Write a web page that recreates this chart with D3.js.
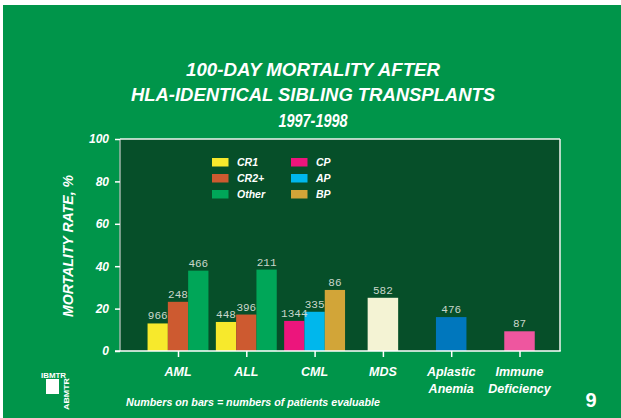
<!doctype html>
<html>
<head>
<script src="https://d3js.org/d3.v7.min.js"></script>
<style>
  body { margin: 0; background: #fff; }
  text { font-family: "Liberation Sans", Arial, sans-serif; }
</style>
</head>
<body>
<svg width="621" height="418"></svg>
<script>
// data
var categories = ["AML", "ALL", "CML", "MDS", "Aplastic Anemia", "Immune Deficiency"];
var phases = [["CR1", "CR2+", "Other"], ["CR1", "CR2+", "Other"], ["CP", "AP", "BP"], ["MDS"], ["Aplastic"], ["Immune"]];
var mortality = [[13.0, 23.2, 37.9], [13.7, 17.2, 38.4], [14.2, 18.5, 28.8], [25.1], [16.0], [9.3]];
var patients = [[966, 248, 466], [448, 396, 211], [1344, 335, 86], [582], [476], [87]];
var legendKeys = ["CR1", "CR2+", "Other", "CP", "AP", "BP"];
var yTicks = [0, 20, 40, 60, 80, 100];
var titleLines = ["100-DAY MORTALITY AFTER", "HLA-IDENTICAL SIBLING TRANSPLANTS", "1997-1998"];

var colors = {
  "CR1": "#f7e92c", "CR2+": "#cd5a30", "Other": "#00a658",
  "CP": "#ec157c", "AP": "#00b7ec", "BP": "#d2a538",
  "MDS": "#f4f3d4", "Aplastic": "#0077bd", "Immune": "#ee569f"
};

var svg = d3.select("svg");
var plotL = 120, plotR = 560, plotT = 139, plotB = 351;

function fit(sel, w) {
  return sel.attr("textLength", w).attr("lengthAdjust", "spacingAndGlyphs");
}

// slide background
svg.append("rect").attr("x", 3).attr("y", 5).attr("width", 618).attr("height", 413).attr("fill", "#00954a");

// title
var tw = [254, 364, 69];
titleLines.forEach(function (t, i) {
  fit(svg.append("text")
    .attr("x", 313).attr("y", 76 + i * 25.3)
    .attr("text-anchor", "middle")
    .style("font-size", "19px").style("font-weight", "bold").style("font-style", "italic")
    .attr("fill", "#fff")
    .text(t), tw[i]);
});

var y = d3.scaleLinear().domain([0, 100]).range([plotB, plotT]);
var x = d3.scalePoint().domain(categories).range([178, 519.5]);

// plot area
svg.append("rect").attr("x", plotL).attr("y", plotT).attr("width", plotR - plotL).attr("height", plotB - plotT)
  .attr("fill", "#064f29");
svg.append("line").attr("x1", plotL).attr("x2", plotL).attr("y1", plotT).attr("y2", plotB)
  .attr("stroke", "#9fb5a8").attr("stroke-width", 1.5);
svg.append("line").attr("x1", plotR).attr("x2", plotR).attr("y1", plotT).attr("y2", plotB)
  .attr("stroke", "#f0f4f0").attr("stroke-width", 1.5);
svg.append("line").attr("x1", plotL).attr("x2", plotR).attr("y1", plotT).attr("y2", plotT)
  .attr("stroke", "#f0f4f0").attr("stroke-width", 1.5);

// bars
var groups = svg.append("g").selectAll("g")
  .data(categories)
  .enter().append("g")
  .attr("transform", function (d) { return "translate(" + x(d) + ",0)"; });

groups.each(function (cat, ci) {
  var n = phases[ci].length;
  var bw = n > 1 ? 20.3 : 30.5;
  var inner = d3.scaleBand().domain(d3.range(n)).range([-n * bw / 2, n * bw / 2]);
  var rows = d3.range(n).map(function (k) {
    return { key: phases[ci][k], v: mortality[ci][k], n: patients[ci][k], k: k };
  });
  var g = d3.select(this);
  g.selectAll("rect").data(rows).enter().append("rect")
    .attr("x", function (d) { return inner(d.k); })
    .attr("width", inner.bandwidth())
    .attr("y", function (d) { return y(d.v); })
    .attr("height", function (d) { return y(0) - y(d.v); })
    .attr("fill", function (d) { return colors[d.key]; });
  g.selectAll("text").data(rows).enter().append("text")
    .attr("x", function (d) { return inner(d.k) + inner.bandwidth() / 2; })
    .attr("y", function (d) { return y(d.v) - 4; })
    .attr("text-anchor", "middle")
    .style("font-family", "'Liberation Mono', 'DejaVu Sans Mono', monospace")
    .style("font-size", "11px")
    .attr("fill", "#c9d6cb")
    .text(function (d) { return d.n; });
});

// y axis
var yAxis = svg.append("g")
  .attr("transform", "translate(" + plotL + ",0)")
  .call(d3.axisLeft(y).tickValues(yTicks).tickSize(5).tickPadding(6));
yAxis.select(".domain").remove();
yAxis.selectAll("line").attr("stroke", "#fff").attr("stroke-width", 1.5);
yAxis.selectAll("text")
  .attr("fill", "#fff")
  .style("font-family", "'Liberation Sans', Arial, sans-serif")
  .style("font-size", "12px").style("font-weight", "bold").style("font-style", "italic");

// x axis
var xAxis = svg.append("g")
  .attr("transform", "translate(0," + plotB + ")")
  .call(d3.axisBottom(x).tickSize(6).tickFormat(""));
xAxis.select(".domain").remove();
xAxis.selectAll("line").attr("stroke", "#fff").attr("stroke-width", 1.5);
svg.append("line").attr("x1", plotL - 5).attr("x2", plotR + 0.75).attr("y1", plotB).attr("y2", plotB)
  .attr("stroke", "#fff").attr("stroke-width", 1.5);

categories.forEach(function (c) {
  var words = c.split(" ");
  var t = svg.append("text")
    .attr("x", x(c)).attr("y", 376)
    .attr("text-anchor", "middle")
    .attr("fill", "#fff")
    .style("font-size", "12.5px").style("font-weight", "bold").style("font-style", "italic");
  words.forEach(function (w, i) {
    t.append("tspan").attr("x", x(c)).attr("dy", i === 0 ? 0 : 17).text(w);
  });
});

// y title
fit(svg.append("text")
  .attr("transform", "translate(73,246) rotate(-90)")
  .attr("text-anchor", "middle")
  .attr("fill", "#fff")
  .style("font-size", "14px").style("font-weight", "bold").style("font-style", "italic")
  .text("MORTALITY RATE, %"), 142);

// legend
var legend = svg.append("g").selectAll("g")
  .data(legendKeys)
  .enter().append("g")
  .attr("transform", function (d, i) {
    return "translate(" + (212 + Math.floor(i / 3) * 79) + "," + (158 + (i % 3) * 16) + ")";
  });
legend.append("rect").attr("width", 16.5).attr("height", 8.5)
  .attr("fill", function (d) { return colors[d]; });
legend.append("text").attr("x", 25).attr("y", 8)
  .attr("fill", "#fff")
  .style("font-size", "10.5px").style("font-weight", "bold").style("font-style", "italic")
  .text(function (d) { return d; });

// footer
fit(svg.append("text")
  .attr("x", 126).attr("y", 405.5)
  .attr("fill", "#fff")
  .style("font-size", "11px").style("font-weight", "bold").style("font-style", "italic")
  .text("Numbers on bars = numbers of patients evaluable"), 254);

svg.append("text")
  .attr("x", 591).attr("y", 406.5)
  .attr("text-anchor", "middle")
  .attr("fill", "#fff")
  .style("font-size", "20px").style("font-weight", "bold")
  .text("9");

// logo
fit(svg.append("text")
  .attr("x", 41).attr("y", 378)
  .attr("fill", "#fff")
  .style("font-size", "8px").style("font-weight", "bold")
  .text("IBMTR"), 25);
svg.append("rect").attr("x", 46).attr("y", 379).attr("width", 13).attr("height", 15).attr("fill", "#fff");
fit(svg.append("text")
  .attr("transform", "translate(69,410) rotate(-90)")
  .attr("fill", "#fff")
  .style("font-size", "7px").style("font-weight", "bold")
  .text("ABMTR"), 32);
</script>
</body>
</html>
